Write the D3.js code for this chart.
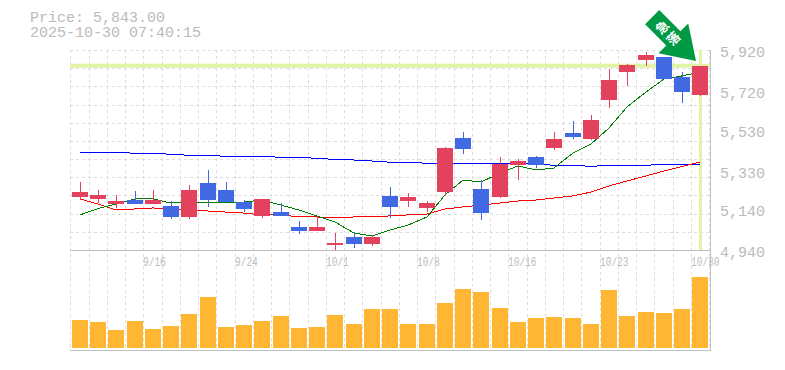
<!DOCTYPE html>
<html>
<head>
<meta charset="utf-8">
<script src="https://cdn.jsdelivr.net/npm/d3@7"></script>
<style>
  html, body { margin: 0; padding: 0; background: #fff; }
  svg { display: block; }
  text { font-family: "Liberation Mono", monospace; fill: #bbb; }
</style>
</head>
<body>
<svg id="chart" width="785" height="370"></svg>
<script>
// chart data
const dates = ["9/9","9/10","9/11","9/12","9/16","9/17","9/18","9/19","9/22","9/24","9/25","9/26","9/29","9/30",
  "10/1","10/2","10/3","10/6","10/7","10/8","10/9","10/10","10/14","10/15","10/16","10/17","10/20","10/21","10/22",
  "10/23","10/24","10/27","10/28","10/29","10/30"];
const dateLabels = ["9/16","9/24","10/1","10/8","10/16","10/23","10/30"];
const priceTicks = [4940,5140,5330,5530,5720,5920];

const opens  = [5200,5190,5165,5185,5165,5156,5102,5268,5234,5175,5107,5126,5053,5033,4965,5004,4969,5205,5180,5146,5224,5489,5239,5200,5356,5396,5440,5513,5484,5675,5812,5871,5886,5788,5700];
const closes = [5224,5210,5180,5165,5185,5102,5234,5185,5175,5141,5190,5107,5033,5053,4974,4969,5004,5151,5200,5170,5440,5435,5121,5361,5376,5356,5484,5494,5577,5773,5846,5895,5778,5714,5843];
const highs  = [5273,5234,5210,5229,5234,5180,5259,5332,5273,5185,5190,5170,5082,5107,5023,5028,5014,5249,5219,5180,5445,5518,5283,5396,5386,5401,5518,5572,5601,5827,5851,5910,5886,5812,5843];
const lows   = [5185,5170,5146,5165,5165,5092,5092,5151,5175,5126,5097,5107,5018,5033,4935,4950,4960,5097,5151,5126,5205,5410,5087,5195,5283,5342,5430,5484,5479,5636,5744,5842,5778,5660,5695];

const maShort = [5112,5143,5165,5190,5190,5170,5175,5175,5175,5175,5185,5160,5136,5107,5077,5023,5009,5038,5062,5102,5210,5283,5273,5317,5352,5332,5342,5415,5459,5538,5641,5714,5778,5793,5812];
const maMid   = [5190,5165,5136,5141,5146,5141,5136,5131,5126,5121,5112,5112,5102,5102,5097,5102,5102,5107,5112,5116,5141,5151,5160,5170,5180,5185,5195,5205,5224,5254,5278,5303,5327,5349,5371];
const maLong  = [5419,5419,5419,5414,5414,5409,5404,5404,5399,5399,5399,5394,5394,5389,5384,5381,5376,5370,5370,5365,5365,5365,5365,5365,5362,5362,5355,5355,5350,5355,5355,5355,5360,5360,5360];

const volumes = [2800,2600,1800,2700,1900,2200,3400,5100,2100,2300,2700,3200,2000,2100,3300,2400,3900,3900,2400,2400,4500,5900,5600,4000,2600,3000,3100,3000,2400,5800,3200,3600,3500,3900,7100];

const lastPrice = 5843;
const titleLines = ["Price: 5,843.00", "2025-10-30 07:40:15"];
const badge = "急落";

const UP = "#e3425f", DOWN = "#4169e1", GRID = "#ddd", AXIS = "#c0c0c0", NOW = "#e2f4a6";

const svg = d3.select("#chart");

const x = d3.scaleBand().domain(d3.range(dates.length)).range([70.3, 709]);
const y = d3.scaleLinear().domain([4940, 5920]).range([250, 50]);
const yVol = d3.scaleLinear().domain([0, 10000]).range([348, 248]);

const barX = i => Math.floor(x(i) + 2);
const midX = i => barX(i) + 8;

// grid, vertical lines sit on the band edges
const grid = svg.append("g").attr("stroke", GRID).attr("stroke-dasharray", "3,3");
const edges = dates.map((d, i) => Math.round(x(i))).concat([709]);
grid.selectAll(".v").data(edges).join("line")
  .attr("x1", d => d + 0.5).attr("x2", d => d + 0.5)
  .attr("y1", 50).attr("y2", 350);
grid.selectAll(".h").data(d3.range(12)).join("line")
  .attr("x1", 70).attr("x2", 710)
  .attr("y1", d => Math.round(50 + d * 200 / 11) + 0.5)
  .attr("y2", d => Math.round(50 + d * 200 / 11) + 0.5);

// now markers
svg.append("line").attr("x1", 70).attr("x2", 710)
  .attr("y1", y(lastPrice)).attr("y2", y(lastPrice))
  .attr("stroke", NOW).attr("stroke-width", 4);
svg.append("line").attr("x1", midX(34)+0.5).attr("x2", midX(34)+0.5)
  .attr("y1", 50).attr("y2", 250)
  .attr("stroke", NOW).attr("stroke-width", 3);

// moving averages
const line = d3.line().x((d, i) => midX(i)).y(d => y(d));
[[maLong, "#0000ff"], [maMid, "#ff0000"], [maShort, "#008000"]].forEach(([vals, col]) => {
  svg.append("path").attr("d", line(vals)).attr("fill", "none")
    .attr("stroke", col).attr("stroke-width", 1).attr("shape-rendering", "crispEdges");
});

// candles
const candles = svg.append("g").attr("shape-rendering", "crispEdges");
const isUp = i => closes[i] >= opens[i];
candles.selectAll("line").data(dates).join("line")
  .attr("x1", (d, i) => midX(i) + 0.5).attr("x2", (d, i) => midX(i) + 0.5)
  .attr("y1", (d, i) => y(highs[i])).attr("y2", (d, i) => y(lows[i]))
  .attr("stroke", (d, i) => isUp(i) ? UP : DOWN).attr("stroke-width", 1);
candles.selectAll("rect").data(dates).join("rect")
  .attr("x", (d, i) => barX(i)).attr("width", 16)
  .attr("y", (d, i) => y(Math.max(opens[i], closes[i])))
  .attr("height", (d, i) => Math.abs(y(opens[i]) - y(closes[i])))
  .attr("fill", (d, i) => isUp(i) ? UP : DOWN);

// volume
svg.append("g").attr("shape-rendering", "crispEdges").selectAll("rect").data(volumes).join("rect")
  .attr("x", (d, i) => barX(i)).attr("width", 16)
  .attr("y", d => yVol(d)).attr("height", d => 348 - yVol(d))
  .attr("fill", "#ffb733");

// frame
const frame = svg.append("g").attr("stroke", AXIS).attr("stroke-width", 1);
frame.append("line").attr("x1", 70).attr("x2", 710).attr("y1", 250.5).attr("y2", 250.5);
frame.append("line").attr("x1", 70).attr("x2", 711).attr("y1", 350.5).attr("y2", 350.5);
frame.append("line").attr("x1", 710.5).attr("x2", 710.5).attr("y1", 50).attr("y2", 350);

// price labels on the right
const yAxis = d3.axisRight(y).tickValues(priceTicks).tickSize(0).tickPadding(10).tickFormat(d3.format(","));
const ya = svg.append("g").attr("transform", "translate(710,2)").call(yAxis);
ya.select(".domain").remove();
ya.selectAll("text").attr("font-size", 15).attr("fill", "#bbb")
  .style("font-family", '"Liberation Mono", monospace');

// date labels start on the band edge, squeezed to under 6px a character
svg.append("g").selectAll("text").data(dateLabels).join("text")
  .attr("x", d => Math.round(x(dates.indexOf(d))))
  .attr("y", 266).attr("font-size", 13)
  .attr("textLength", d => d.length * 5.7).attr("lengthAdjust", "spacingAndGlyphs")
  .text(d => d);

// header
svg.append("g").selectAll("text").data(titleLines).join("text")
  .attr("x", 30).attr("y", (d, i) => 22 + i * 15)
  .attr("font-size", 15).text(d => d);

// arrow badge
const badgeG = svg.append("g").attr("transform", "translate(696,61) rotate(-45)");
badgeG.append("path")
  .attr("d", "M0,0 L-21,-32 L-10,-32 L-10,-62 L10,-62 L10,-32 L21,-32 Z")
  .attr("fill", "#009944").attr("stroke", "#fff").attr("stroke-width", 2).attr("paint-order", "stroke");
badgeG.selectAll("text").data(badge.split("")).join("text")
  .attr("x", 0).attr("y", (d, i) => -43 + i * 16)
  .attr("text-anchor", "middle").attr("font-size", 13).attr("font-weight", "bold")
  .style("font-family", '"Noto Sans CJK JP", sans-serif').style("fill", "#fff")
  .text(d => d);
</script>
</body>
</html>
